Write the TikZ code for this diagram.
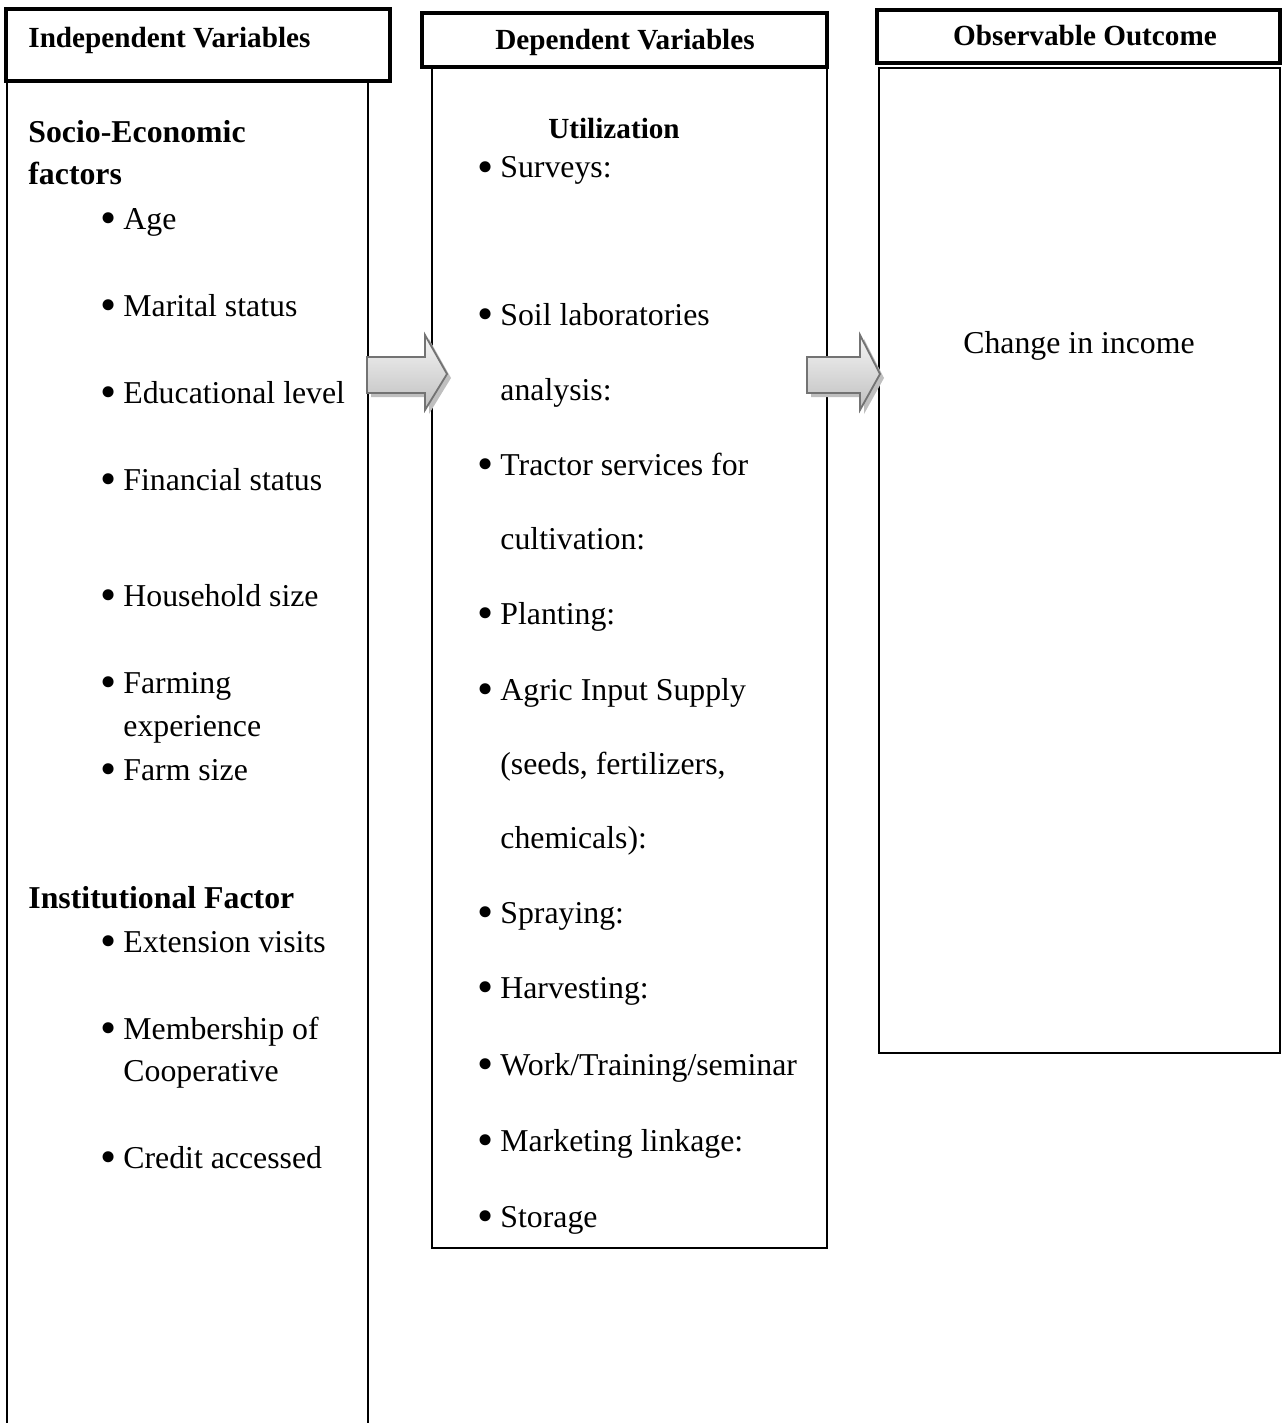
\documentclass[tikz,border=0pt]{standalone}
\usepackage{fontspec}
\setmainfont{Liberation Serif}
\usepackage{graphicx}
\newcommand{\bul}{\llap{\raisebox{-2pt}{\scalebox{1.45}{\textbullet}}\hspace{3.6pt}}}
\begin{document}
\begin{tikzpicture}[x=0.5pt,y=-0.5pt,
    head box/.style={draw,line width=1.6pt,fill=white},
    body box/.style={draw,line width=0.9pt},
    head text/.style={font=\fontsize{14.6}{17}\selectfont\bfseries,inner sep=0pt,anchor=base},
    group title/.style={font=\fontsize{15.9}{21.3}\selectfont\bfseries,inner sep=0pt,anchor=base west,align=left},
    item/.style={font=\fontsize{15.9}{21.3}\selectfont,inner sep=0pt,anchor=base west},
    flow arrow/.style={draw=black!55,line width=0.9pt,top color=gray!8,bottom color=gray!50},
    flow shadow/.style={fill=black!25}]
    \useasboundingbox (0,0) rectangle (1283,1423);

    % Boxes
    \draw[body box] (7,80) -- (7,1430);
    \draw[body box] (368,80) -- (368,1430);
    \draw[head box] (6,9) rectangle (390,81);
    \draw[body box] (432,67) rectangle (827,1248);
    \draw[head box] (422,13) rectangle (827,67);
    \draw[body box] (879,68) rectangle (1280,1053);
    \draw[head box] (877,10) rectangle (1280,63);

    % Headings
    \node[head text,anchor=base west] (indep) at (28,48) {Independent Variables};
    \node[head text] (dep) at (625,50) {Dependent Variables};
    \node[head text] (obs) at (1085,46) {Observable Outcome};

    % Independent variables
    \node[group title] (socio) at (28,143) {Socio-Economic};
    \node[group title] (socio2) at (28,185) {factors};
    \node[item] (age) at (123,229) {\bul Age};
    \node[item] (marital) at (123,316) {\bul Marital status};
    \node[item] (edu) at (123,403) {\bul Educational level};
    \node[item] (fin) at (123,490) {\bul Financial status};
    \node[item] (house) at (123,606) {\bul Household size};
    \node[item] (farming) at (123,693) {\bul Farming};
    \node[item] (farming2) at (123,736) {experience};
    \node[item] (farm) at (123,780) {\bul Farm size};
    \node[group title] (inst) at (28,908) {Institutional Factor};
    \node[item] (ext) at (123,952) {\bul Extension visits};
    \node[item] (member) at (123,1039) {\bul Membership of};
    \node[item] (member2) at (123,1081) {Cooperative};
    \node[item] (credit) at (123,1168) {\bul Credit accessed};

    % Dependent variables
    \node[head text] (util) at (614,139) {Utilization};
    \node[item] (survey) at (500,178) {\bul Surveys:};
    \node[item] (soil) at (500,325) {\bul Soil laboratories};
    \node[item] (soil2) at (500,400) {analysis:};
    \node[item] (tractor) at (500,475) {\bul Tractor services for};
    \node[item] (tractor2) at (500,549) {cultivation:};
    \node[item] (plant) at (500,624) {\bul Planting:};
    \node[item] (agric) at (500,700) {\bul Agric Input Supply};
    \node[item] (agric2) at (500,774) {(seeds, fertilizers,};
    \node[item] (agric3) at (500,848) {chemicals):};
    \node[item] (spray) at (500,923) {\bul Spraying:};
    \node[item] (harvest) at (500,998) {\bul Harvesting:};
    \node[item] (work) at (500,1075) {\bul Work/Training/seminar};
    \node[item] (market) at (500,1151) {\bul Marketing linkage:};
    \node[item] (store) at (500,1227) {\bul Storage};

    % Outcome
    \node[item,anchor=base] (income) at (1079,353) {Change in income};

    % Block arrows
    \foreach \s/\h/\t in {367/425/447, 807/860/880} {
        \path[flow shadow,shift={(4,4)}] (\s,357) -- (\h,357) -- (\h,335) -- (\t,374)
            -- (\h,410) -- (\h,393) -- (\s,393) -- cycle;
        \path[flow arrow] (\s,357) -- (\h,357) -- (\h,335) -- (\t,374)
            -- (\h,410) -- (\h,393) -- (\s,393) -- cycle;
    }
\end{tikzpicture}
\end{document}
